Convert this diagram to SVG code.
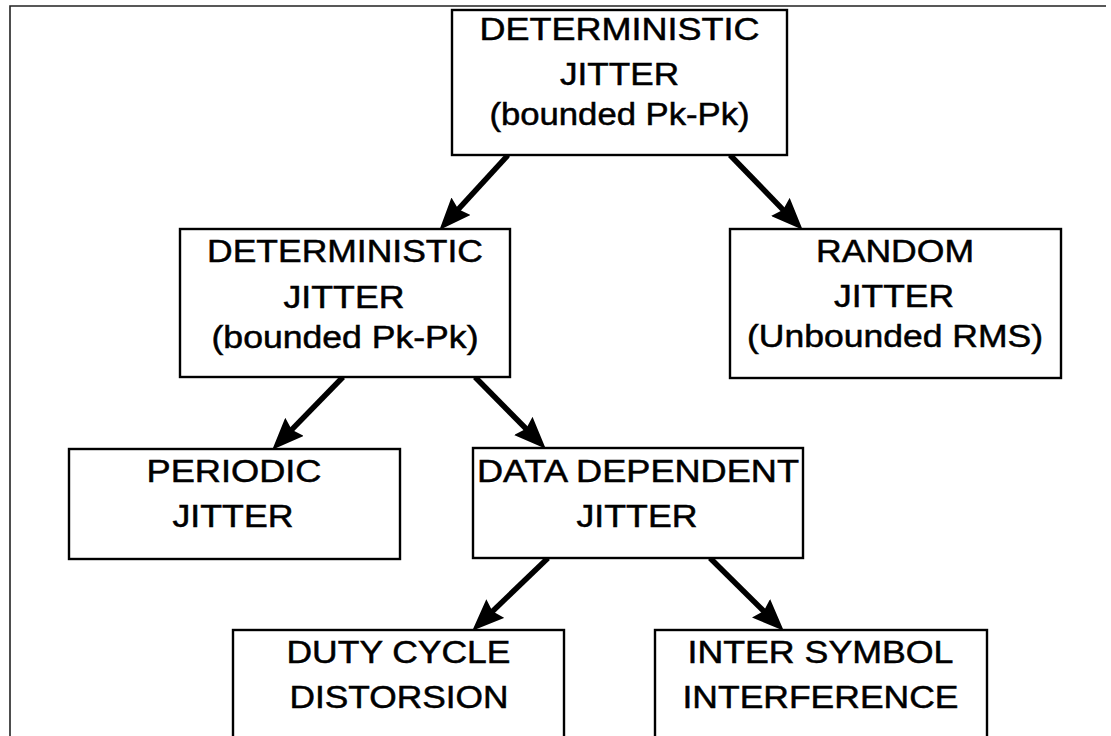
<svg xmlns="http://www.w3.org/2000/svg" width="1111" height="736" viewBox="0 0 1111 736">
  <style>
    .box { fill: #ffffff; stroke: #000000; stroke-width: 2.4; }
    .t { font-family: "Liberation Sans", Arial, sans-serif; font-size: 31px; fill: #000000; stroke: #000000; stroke-width: 0.5; text-anchor: middle; }
    .conn { stroke: #000000; stroke-width: 5.5; fill: none; marker-end: url(#arrow); }
    .frame { stroke: #222222; stroke-width: 1.6; fill: none; }
  </style>
  <defs>
    <marker id="arrow" viewBox="0 0 32 26" refX="11" refY="13" markerWidth="32" markerHeight="26" markerUnits="userSpaceOnUse" orient="auto">
      <path d="M0,0 L32,13 L0,26 L4,13 Z" fill="#000000"/>
    </marker>
  </defs>
  <rect x="0" y="0" width="1111" height="736" fill="#ffffff"/>
  <path class="frame" d="M10,736 L10,6 L1106,6"/>

  <g id="connectors">
    <line class="conn" x1="508" y1="155" x2="453.6" y2="214.4"/>
    <line class="conn" x1="730" y1="155" x2="788" y2="214.8"/>
    <line class="conn" x1="343" y1="377" x2="286.9" y2="434.7"/>
    <line class="conn" x1="475" y1="377" x2="531" y2="433.8"/>
    <line class="conn" x1="548" y1="558" x2="487.4" y2="616.2"/>
    <line class="conn" x1="710" y1="558" x2="768.8" y2="616"/>
  </g>

  <g id="node-dj-top">
    <rect class="box" x="452" y="10" width="335" height="145"/>
    <text class="t" x="619.5" y="40" textLength="280" lengthAdjust="spacingAndGlyphs">DETERMINISTIC</text>
    <text class="t" x="619.5" y="85" textLength="119" lengthAdjust="spacingAndGlyphs">JITTER</text>
    <text class="t" x="619.5" y="125" textLength="260" lengthAdjust="spacingAndGlyphs">(bounded Pk-Pk)</text>
  </g>

  <g id="node-dj">
    <rect class="box" x="180" y="229" width="330" height="148"/>
    <text class="t" x="345" y="262" textLength="276" lengthAdjust="spacingAndGlyphs">DETERMINISTIC</text>
    <text class="t" x="344" y="308" textLength="121" lengthAdjust="spacingAndGlyphs">JITTER</text>
    <text class="t" x="345" y="348" textLength="267" lengthAdjust="spacingAndGlyphs">(bounded Pk-Pk)</text>
  </g>

  <g id="node-rj">
    <rect class="box" x="730" y="229" width="331" height="149"/>
    <text class="t" x="895" y="262" textLength="158" lengthAdjust="spacingAndGlyphs">RANDOM</text>
    <text class="t" x="894" y="307" textLength="120" lengthAdjust="spacingAndGlyphs">JITTER</text>
    <text class="t" x="895" y="347" textLength="296" lengthAdjust="spacingAndGlyphs">(Unbounded RMS)</text>
  </g>

  <g id="node-pj">
    <rect class="box" x="69" y="449" width="331" height="110"/>
    <text class="t" x="234" y="482" textLength="175" lengthAdjust="spacingAndGlyphs">PERIODIC</text>
    <text class="t" x="233" y="527" textLength="121" lengthAdjust="spacingAndGlyphs">JITTER</text>
  </g>

  <g id="node-ddj">
    <rect class="box" x="473" y="448" width="330" height="110"/>
    <text class="t" x="638" y="482" textLength="322" lengthAdjust="spacingAndGlyphs">DATA DEPENDENT</text>
    <text class="t" x="637" y="527" textLength="121" lengthAdjust="spacingAndGlyphs">JITTER</text>
  </g>

  <g id="node-dcd">
    <rect class="box" x="233" y="630" width="331" height="130"/>
    <text class="t" x="398.5" y="663" textLength="224" lengthAdjust="spacingAndGlyphs">DUTY CYCLE</text>
    <text class="t" x="399" y="708" textLength="219" lengthAdjust="spacingAndGlyphs">DISTORSION</text>
  </g>

  <g id="node-isi">
    <rect class="box" x="655" y="630" width="332" height="130"/>
    <text class="t" x="820.5" y="663" textLength="266" lengthAdjust="spacingAndGlyphs">INTER SYMBOL</text>
    <text class="t" x="820.5" y="708" textLength="276" lengthAdjust="spacingAndGlyphs">INTERFERENCE</text>
  </g>
</svg>
